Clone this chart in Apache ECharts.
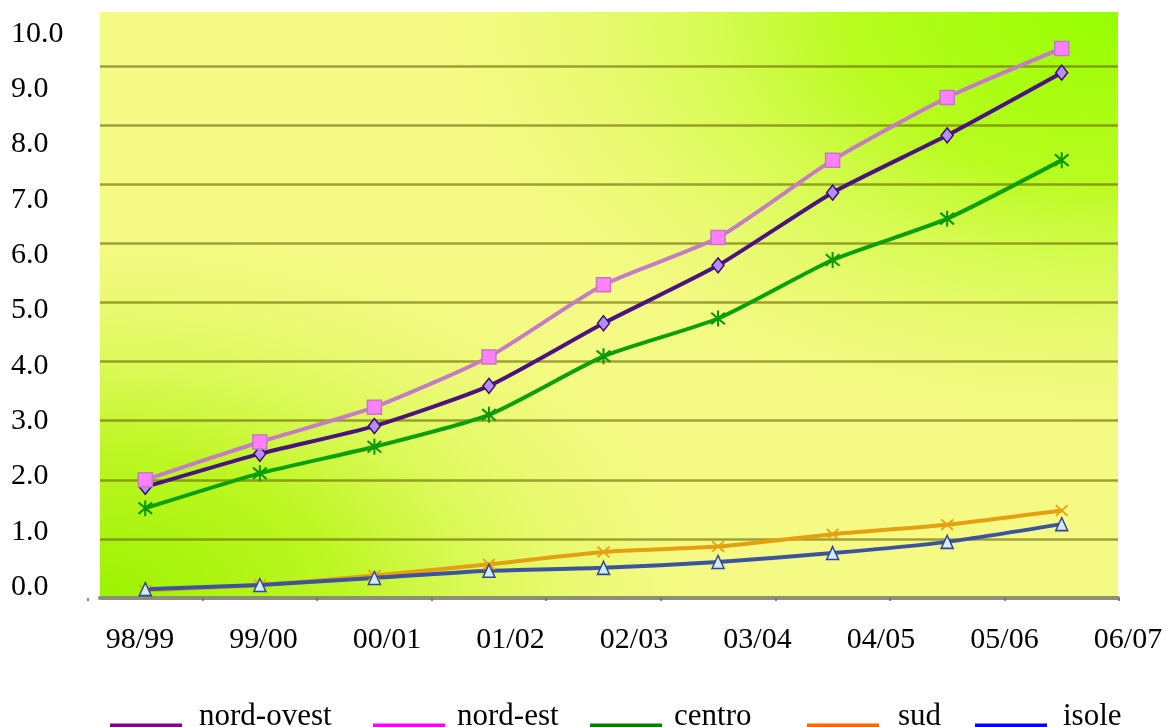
<!DOCTYPE html>
<html>
<head>
<meta charset="utf-8">
<script src="https://cdn.jsdelivr.net/npm/echarts@6/dist/echarts.min.js"></script>
<style>
  html, body { margin: 0; padding: 0; background: #ffffff; }
  #chart { width: 1166px; height: 727px; }
</style>
</head>
<body>
<div id="chart"></div>
<script>
// School years and the five regional series
const categories = ['98/99', '99/00', '00/01', '01/02', '02/03', '03/04', '04/05', '05/06', '06/07'];
const seriesNames = ['nord-ovest', 'nord-est', 'centro', 'sud', 'isole'];
const nordOvest = [1.88, 2.44, 2.91, 3.59, 4.65, 5.63, 6.86, 7.83, 8.89];
const nordEst   = [2.00, 2.64, 3.23, 4.08, 5.30, 6.10, 7.41, 8.47, 9.30];
const centro    = [1.52, 2.11, 2.56, 3.10, 4.09, 4.73, 5.72, 6.42, 7.41];
const sud       = [0.13, 0.22, 0.38, 0.57, 0.78, 0.87, 1.08, 1.24, 1.48];
const isole     = [0.15, 0.22, 0.34, 0.46, 0.51, 0.61, 0.76, 0.95, 1.25];
const yMin = 0, yMax = 9.9, yLabelMax = 10, yStep = 1;

const FONT = 'Liberation Serif';
const legendColors = ['#800080', '#ff00ff', '#008000', '#ff6600', '#0000ff'];

// asterisk and cross marker outlines
const asterisk = 'path://M-0.9,-7L0.9,-7L0.9,7L-0.9,7Z M-6.6,-4.3L-5.4,-5.7L6.6,4.3L5.4,5.7Z M5.4,-5.7L6.6,-4.3L-5.4,5.7L-6.6,4.3Z';
const cross = 'path://M-6.6,-4.3L-5.4,-5.7L6.6,4.3L5.4,5.7Z M5.4,-5.7L6.6,-4.3L-5.4,5.7L-6.6,4.3Z';
// legend swatch: a bar sitting on the text baseline (tiny anchor point keeps the box height)
const swatch = 'path://M0,0L0.05,0L0.05,0.05Z M0,18L72,18L72,22L0,22Z';

const chart = echarts.init(document.getElementById('chart'), null, { renderer: 'canvas' });

const plotX = 100, plotY = 12, plotW = 1018, plotH = 586;

function legendFor(idx, left, padLeft) {
  return {
    left: left, top: 701, padding: 0,
    itemWidth: 72, itemHeight: 22, icon: swatch, symbolKeepAspect: false,
    selectedMode: false,
    textStyle: { fontFamily: FONT, fontSize: 31, lineHeight: 22, color: '#000', padding: [0, 0, 0, padLeft] },
    data: [{ name: seriesNames[idx], itemStyle: { color: legendColors[idx], borderWidth: 0 } }]
  };
}

const option = {
  animation: false,
  backgroundColor: '#ffffff',
  graphic: [
    { type: 'rect', z: -10, silent: true,
      shape: { x: plotX, y: plotY, width: plotW, height: plotH },
      style: { fill: '#f5fa84' } },
    { type: 'rect', z: -9, silent: true, x: plotX, y: plotY, scaleY: 0.62,
      shape: { x: 0, y: 0, width: plotW, height: plotH / 0.62 },
      style: { fill: new echarts.graphic.RadialGradient(1, 0, 0.72, [
        { offset: 0, color: 'rgba(150,255,0,1)' },
        { offset: 0.4, color: 'rgba(178,252,20,0.9)' },
        { offset: 1, color: 'rgba(225,250,100,0)' }
      ]) } },
    { type: 'rect', z: -9, silent: true, x: plotX, y: plotY, scaleY: 0.62,
      shape: { x: 0, y: 0, width: plotW, height: plotH / 0.62 },
      style: { fill: new echarts.graphic.RadialGradient(0, 1, 0.64, [
        { offset: 0, color: 'rgba(155,242,0,1)' },
        { offset: 0.4, color: 'rgba(182,246,22,0.88)' },
        { offset: 1, color: 'rgba(225,250,100,0)' }
      ]) } }
  ],
  legend: [
    legendFor(0, 110, 12),
    legendFor(1, 373, 7),
    legendFor(2, 590, 7),
    legendFor(3, 807, 14),
    legendFor(4, 975, 11)
  ],
  grid: [
    // gridlines and base axis
    { left: 100, right: 48, top: 13, bottom: 129 },
    // data
    { left: 88, right: 47, top: 13, bottom: 129 },
    // value labels
    { left: 100, right: 48, top: 34, bottom: 140 },
    // category labels
    { left: 140, right: 38, top: 13, bottom: 129 }
  ],
  xAxis: [
    { gridIndex: 0, type: 'value', min: 0, max: 1, offset: 2,
      axisLine: { show: true, lineStyle: { color: '#8c9078', width: 4 } },
      axisTick: { show: false }, axisLabel: { show: false }, splitLine: { show: false } },
    { gridIndex: 1, type: 'category', data: categories, boundaryGap: true,
      axisLine: { show: false },
      axisTick: { show: true, length: 3, lineStyle: { color: '#666', width: 1.5 } },
      axisLabel: { show: false }, splitLine: { show: false } },
    { gridIndex: 2, type: 'value', show: false, min: 0, max: 1 },
    { gridIndex: 3, type: 'category', data: categories, boundaryGap: false,
      axisLine: { show: false }, axisTick: { show: false }, splitLine: { show: false },
      axisLabel: { show: true, interval: 0, margin: 27, fontFamily: FONT, fontSize: 30,
        lineHeight: 30, color: '#000' } }
  ],
  yAxis: [
    { gridIndex: 0, type: 'value', min: yMin, max: yMax, interval: yStep,
      axisLine: { show: false }, axisTick: { show: false }, axisLabel: { show: false },
      splitLine: { show: true, showMinLine: false, showMaxLine: false,
        lineStyle: { color: 'rgba(100,100,0,0.6)', width: 2.5 } } },
    { gridIndex: 1, type: 'value', min: yMin, max: yMax, show: false },
    { gridIndex: 2, type: 'value', min: yMin, max: yLabelMax, interval: yStep,
      axisLine: { show: false }, axisTick: { show: false }, splitLine: { show: false },
      axisLabel: { show: true, align: 'left', margin: 89, fontFamily: FONT, fontSize: 30,
        lineHeight: 30, color: '#000', formatter: v => v.toFixed(1) } },
    { gridIndex: 3, type: 'value', show: false, min: 0, max: 1 }
  ],
  series: [
    { name: seriesNames[0], type: 'line', xAxisIndex: 1, yAxisIndex: 1, data: nordOvest,
      smooth: 0.2, symbol: 'diamond', symbolSize: [12, 15],
      lineStyle: { color: '#4a1480', width: 4 },
      itemStyle: { color: '#b68cff', borderColor: '#3a0c6c', borderWidth: 1.5 } },
    { name: seriesNames[1], type: 'line', xAxisIndex: 1, yAxisIndex: 1, data: nordEst,
      smooth: 0.2, symbol: 'rect', symbolSize: 14,
      lineStyle: { color: '#c47cc4', width: 4 },
      itemStyle: { color: '#ff80ff', borderColor: '#c27ac2', borderWidth: 1.5 } },
    { name: seriesNames[2], type: 'line', xAxisIndex: 1, yAxisIndex: 1, data: centro,
      smooth: 0.2, symbol: asterisk, symbolSize: [15, 16],
      lineStyle: { color: '#0aa00a', width: 4 },
      itemStyle: { color: '#089a08', borderWidth: 0 } },
    { name: seriesNames[3], type: 'line', xAxisIndex: 1, yAxisIndex: 1, data: sud,
      smooth: 0.2, symbol: cross, symbolSize: [13, 12],
      lineStyle: { color: '#e4a010', width: 4 },
      itemStyle: { color: '#e8a418', borderWidth: 0 } },
    { name: seriesNames[4], type: 'line', xAxisIndex: 1, yAxisIndex: 1, data: isole,
      smooth: 0.2, symbol: 'triangle', symbolSize: [12, 13],
      lineStyle: { color: '#3c54a0', width: 4 },
      itemStyle: { color: '#d4eaff', borderColor: '#2f4890', borderWidth: 1.5 } }
  ]
};

chart.setOption(option);
</script>
</body>
</html>
